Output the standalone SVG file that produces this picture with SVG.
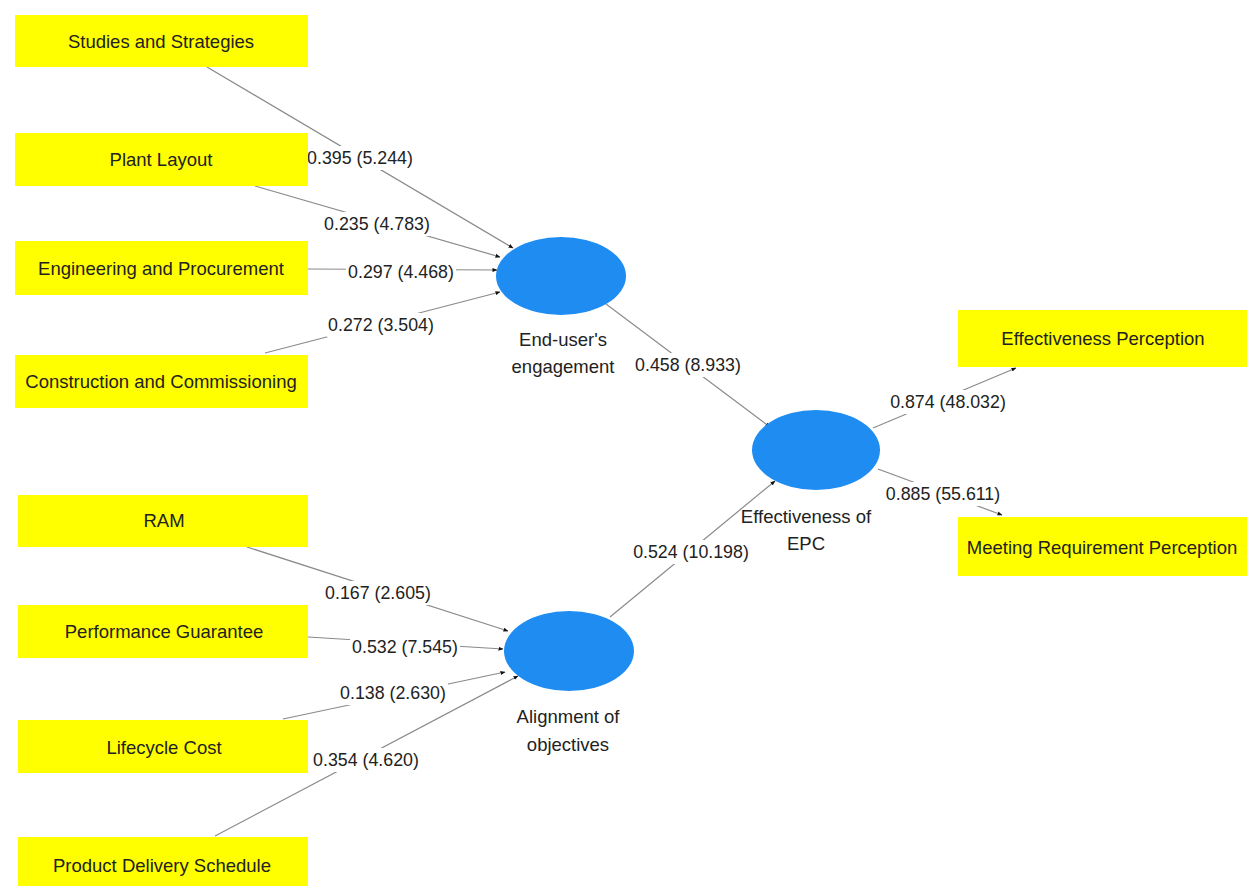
<svg xmlns="http://www.w3.org/2000/svg" width="1256" height="886" viewBox="0 0 1256 886">
<defs>
<style>
.box{fill:#ffff00;}
.lv{fill:#1e8cf0;}
.t{font-family:"Liberation Sans",Arial,sans-serif;font-size:18.5px;fill:#222;text-anchor:middle;}
.n{font-family:"Liberation Sans",Arial,sans-serif;font-size:17.8px;fill:#222;text-anchor:middle;}
.c{stroke:#8a8a8a;stroke-width:1.2;fill:none;marker-end:url(#ah);}
.bg{fill:#ffffff;}
</style>
<marker id="ah" viewBox="0 0 10 10" refX="9" refY="5" markerWidth="5" markerHeight="5" orient="auto" markerUnits="userSpaceOnUse">
<path d="M0,1 L10,5 L0,9 z" fill="#111"/>
</marker>
</defs>
<rect width="1256" height="886" fill="#ffffff"/>

<g id="connectors">
<line class="c" x1="207" y1="67" x2="513" y2="248"/>
<line class="c" x1="255" y1="186" x2="500" y2="257"/>
<line class="c" x1="308" y1="269" x2="497" y2="270"/>
<line class="c" x1="265" y1="353" x2="500" y2="292"/>
<line class="c" x1="606" y1="304" x2="770" y2="427"/>
<line class="c" x1="610" y1="617" x2="775" y2="481"/>
<line class="c" x1="873" y1="428" x2="1016" y2="368"/>
<line class="c" x1="878" y1="469" x2="1002" y2="515"/>
<line class="c" x1="247" y1="547" x2="508" y2="631"/>
<line class="c" x1="308" y1="637" x2="503" y2="649"/>
<line class="c" x1="283" y1="719" x2="505" y2="672"/>
<line class="c" x1="215" y1="836" x2="518" y2="676"/>

<rect class="bg" x="309" y="146" width="104" height="24"/>
<text class="n" x="360" y="164">0.395 (5.244)</text>
<rect class="bg" x="324" y="212" width="108" height="24"/>
<text class="n" x="377" y="230">0.235 (4.783)</text>
<rect class="bg" x="346" y="260" width="110" height="24"/>
<text class="n" x="401" y="278">0.297 (4.468)</text>
<rect class="bg" x="327" y="313" width="108" height="24"/>
<text class="n" x="381" y="331">0.272 (3.504)</text>
<rect class="bg" x="633" y="353" width="110" height="24"/>
<text class="n" x="688" y="371">0.458 (8.933)</text>
<rect class="bg" x="631" y="540" width="120" height="24"/>
<text class="n" x="691" y="558">0.524 (10.198)</text>
<rect class="bg" x="888" y="390" width="120" height="24"/>
<text class="n" x="948" y="408">0.874 (48.032)</text>
<rect class="bg" x="883" y="482" width="120" height="24"/>
<text class="n" x="943" y="500">0.885 (55.611)</text>
<rect class="bg" x="324" y="581" width="108" height="24"/>
<text class="n" x="378" y="599">0.167 (2.605)</text>
<rect class="bg" x="350" y="635" width="110" height="24"/>
<text class="n" x="405" y="653">0.532 (7.545)</text>
<rect class="bg" x="338" y="681" width="110" height="24"/>
<text class="n" x="393" y="699">0.138 (2.630)</text>
<rect class="bg" x="311" y="748" width="110" height="24"/>
<text class="n" x="366" y="766">0.354 (4.620)</text>
</g>

<g id="n-studies"><rect class="box" x="15" y="15" width="293" height="52"/><text class="t" x="161" y="48">Studies and Strategies</text></g>
<g id="n-plant"><rect class="box" x="15" y="133" width="293" height="53"/><text class="t" x="161" y="166">Plant Layout</text></g>
<g id="n-eng"><rect class="box" x="15" y="241" width="293" height="54"/><text class="t" x="161" y="275">Engineering and Procurement</text></g>
<g id="n-cons"><rect class="box" x="15" y="355" width="293" height="53"/><text class="t" x="161" y="388">Construction and Commissioning</text></g>
<g id="n-ram"><rect class="box" x="18" y="495" width="290" height="52"/><text class="t" x="164" y="527">RAM</text></g>
<g id="n-perf"><rect class="box" x="18" y="605" width="290" height="53"/><text class="t" x="164" y="638">Performance Guarantee</text></g>
<g id="n-life"><rect class="box" x="18" y="720" width="290" height="53"/><text class="t" x="164" y="754">Lifecycle Cost</text></g>
<g id="n-prod"><rect class="box" x="18" y="837" width="290" height="49"/><text class="t" x="162" y="872">Product Delivery Schedule</text></g>
<g id="n-effp"><rect class="box" x="958" y="310" width="289" height="57"/><text class="t" x="1103" y="345">Effectiveness Perception</text></g>
<g id="n-meet"><rect class="box" x="958" y="517" width="289" height="59"/><text class="t" x="1102" y="554">Meeting Requirement Perception</text></g>

<g id="n-enduser"><ellipse class="lv" cx="561" cy="276" rx="65" ry="39"/><text class="t" x="563" y="346">End-user's</text><text class="t" x="563" y="373">engagement</text></g>
<g id="n-align"><ellipse class="lv" cx="569" cy="651" rx="65" ry="40"/><text class="t" x="568" y="723">Alignment of</text><text class="t" x="568" y="751">objectives</text></g>
<g id="n-epc"><ellipse class="lv" cx="816" cy="450" rx="64" ry="40"/><text class="t" x="806" y="523">Effectiveness of</text><text class="t" x="806" y="550">EPC</text></g>
</svg>
